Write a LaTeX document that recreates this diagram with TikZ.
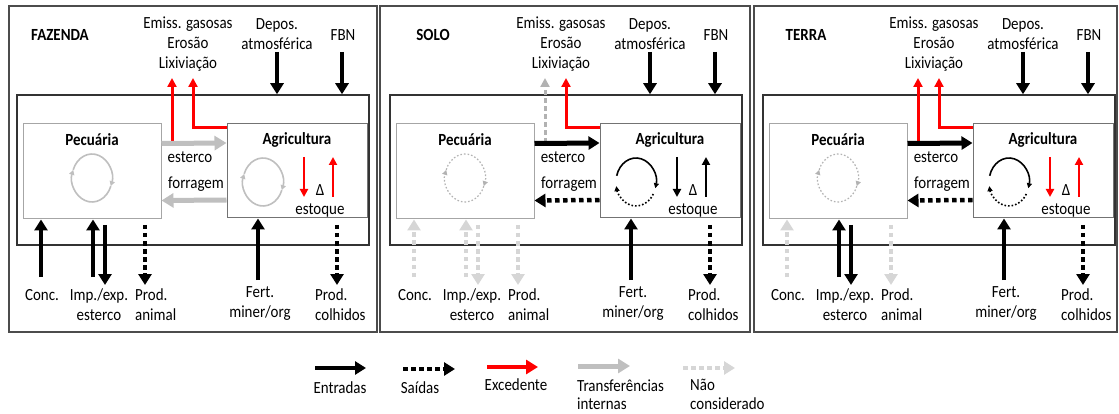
\documentclass[tikz,border=0pt]{standalone}
\usepackage{fontspec}
\setmainfont{Carlito}[FakeStretch=0.88]
\usepackage{xcolor}
\usetikzlibrary{arrows.meta}

\definecolor{excred}{HTML}{FF0000}
\definecolor{transgray}{HTML}{BFBFBF}
\definecolor{ncgray}{HTML}{D6D6D6}

\tikzset{
  lbl/.style={font=\fontsize{17}{20}\selectfont, inner sep=0pt, align=center},
  bold/.style={lbl, font=\fontsize{17}{20}\selectfont\bfseries},
  panelline/.style={draw=black!70, line width=1.3pt},
  entrada/.style={black, line width=4pt, -{Triangle[length=11pt,width=13pt]}},
  saida/.style={black, line width=4.5pt, dash pattern=on 4.5pt off 3.5pt, -{Triangle[length=11pt,width=13pt]}},
  exced/.style={excred, line width=3pt, -{Triangle[length=9pt,width=9pt]}},
  transf/.style={transgray, line width=5pt, -{Triangle[length=12pt,width=14pt]}},
  naocons/.style={ncgray, line width=4.5pt, dash pattern=on 4.5pt off 3.5pt, -{Triangle[length=11pt,width=13pt]}},
  stock/.style={line width=2.4pt, -{Triangle[length=8pt,width=8pt]}},
  cyc/.style={line width=1.6pt, -{Triangle[length=5pt,width=5pt]}},
}

% common parts of one panel: #1 prefix, #2 shift, #3 title
\newcommand{\farmpanel}[3]{%
\begin{scope}[xshift=#2pt]
  \node[bold] (#1title) at (60,35) {#3};
  \node[lbl] (#1emiss) at (188,44) {Emiss. gasosas\\Erosão\\Lixiviação};
  \node[lbl] (#1depos) at (277,34) {Depos.\\atmosférica};
  \node[lbl] (#1fbn) at (343,35) {FBN};
  \node[draw=black!80, line width=1.5pt, minimum width=352pt, minimum height=150pt, inner sep=0pt] (#1farm) at (193,170) {};
  \node[draw=black!35, line width=1pt, fill=white, minimum width=138pt, minimum height=95pt, inner sep=0pt] (#1pec) at (92,171.5) {};
  \node[draw=black!55, line width=1pt, fill=white, minimum width=140pt, minimum height=94pt, inner sep=0pt] (#1agr) at (297,171) {};
  \node[bold] (#1pect) at (92,140) {Pecuária};
  \node[bold] (#1agrt) at (297,140) {Agricultura};
  \node[lbl] (#1esterco) at (190,157) {esterco};
  \node[lbl] (#1forr) at (196,184) {forragem};
  \node[lbl] (#1delta) at (320,190) {Δ};
  \node[lbl] (#1estq) at (320,210) {estoque};
  \node[lbl] (#1conc) at (42,295) {Conc.};
  \node[lbl] (#1impl) at (99,305) {Imp./exp.\\esterco};
  \node[lbl, align=left, anchor=west] (#1prodan) at (135,305) {Prod.\\animal};
  \node[lbl] (#1fertl) at (260,304) {Fert.\\miner/org};
  \node[lbl, align=left, anchor=west] (#1prodco) at (315,305) {Prod.\\colhidos};
  \coordinate (#1dep) at (277,52);
  \coordinate (#1fbnt) at (342,52);
  \coordinate (#1ex1) at (172,78);
  \coordinate (#1ex2) at (193,78);
  \coordinate (#1ra) at (172,143);
  \coordinate (#1sd) at (304,157);
  \coordinate (#1su) at (333,197);
  \coordinate (#1cc) at (41,277);
  \coordinate (#1imp) at (93,277);
  \coordinate (#1exp) at (105,225);
  \coordinate (#1anim) at (145,225);
  \coordinate (#1fert) at (258,280);
  \coordinate (#1colh) at (337,225);
  \coordinate (#1low) at (0,285);
  \coordinate (#1pc) at (92,178);
  \coordinate (#1ac) at (263,182);
\end{scope}}

\begin{document}
\begin{tikzpicture}[x=1pt, y=-1pt]
\useasboundingbox (0,0) rectangle (1119,414);

\draw[panelline] (9,6) rectangle (377,332);
\draw[panelline] (380,6) rectangle (750,332);
\draw[panelline] (754,6) rectangle (1117,332);

% FAZENDA
\farmpanel{a}{0}{FAZENDA}
\draw[entrada] (adep) -- (adep |- afarm.north);
\draw[entrada] (afbnt) -- (afbnt |- afarm.north);
\draw[exced] (ara) -- (aex1);
\draw[exced] ([yshift=43pt]aagr.west) -| (aex2);
\draw[transf] ([yshift=28pt]apec.east) -- ([yshift=28pt]aagr.west);
\draw[transf] ([yshift=-29pt]aagr.west) -- ([yshift=-29pt]apec.east);
\draw[cyc, black!25] (apc) ++(200:20 and 24) arc[start angle=200, end angle=380, x radius=20, y radius=24];
\draw[cyc, black!25] (apc) ++(20:20 and 24) arc[start angle=20, end angle=200, x radius=20, y radius=24];
\draw[cyc, black!25] (aac) ++(200:20 and 24) arc[start angle=200, end angle=380, x radius=20, y radius=24];
\draw[cyc, black!25] (aac) ++(20:20 and 24) arc[start angle=20, end angle=200, x radius=20, y radius=24];
\draw[stock, excred] (asd) -- (asd |- asu);
\draw[stock, excred] (asu) -- (asu |- asd);
\draw[entrada] (acc) -- (acc |- apec.south);
\draw[entrada] (aimp) -- (aimp |- apec.south);
\draw[entrada] (aexp) -- (aexp |- alow);
\draw[saida] (aanim) -- (aanim |- alow);
\draw[entrada] (afert) -- (afert |- aagr.south);
\draw[saida] (acolh) -- (acolh |- alow);

% SOLO
\farmpanel{b}{373}{SOLO}
\draw[entrada] (bdep) -- (bdep |- bfarm.north);
\draw[entrada] (bfbnt) -- (bfbnt |- bfarm.north);
\draw[naocons, black!30, line width=3pt, -{Triangle[length=9pt,width=9pt]}] (bra) -- (bex1);
\draw[exced] ([yshift=43pt]bagr.west) -| (bex2);
\draw[entrada, line width=5pt] ([yshift=28pt]bpec.east) -- ([yshift=28pt]bagr.west);
\draw[saida] ([yshift=-29pt]bagr.west) -- ([yshift=-29pt]bpec.east);
\draw[cyc, black!30, dotted, line width=1.2pt] (bpc) ++(200:20 and 24) arc[start angle=200, end angle=380, x radius=20, y radius=24];
\draw[cyc, black!30, dotted, line width=1.2pt] (bpc) ++(20:20 and 24) arc[start angle=20, end angle=200, x radius=20, y radius=24];
\draw[cyc, black] (bac) ++(195:20 and 24) arc[start angle=195, end angle=375, x radius=20, y radius=24];
\draw[cyc, black, dotted] (bac) ++(30:20 and 24) arc[start angle=30, end angle=170, x radius=20, y radius=24];
\draw[stock, black] (bsd) -- (bsd |- bsu);
\draw[stock, black] (bsu) -- (bsu |- bsd);
\draw[naocons] (bcc) -- (bcc |- bpec.south);
\draw[naocons] (bimp) -- (bimp |- bpec.south);
\draw[naocons] (bexp) -- (bexp |- blow);
\draw[naocons] (banim) -- (banim |- blow);
\draw[entrada] (bfert) -- (bfert |- bagr.south);
\draw[saida] (bcolh) -- (bcolh |- blow);

% TERRA
\farmpanel{c}{746}{TERRA}
\draw[entrada] (cdep) -- (cdep |- cfarm.north);
\draw[entrada] (cfbnt) -- (cfbnt |- cfarm.north);
\draw[exced] (cra) -- (cex1);
\draw[exced] ([yshift=43pt]cagr.west) -| (cex2);
\draw[entrada, line width=5pt] ([yshift=28pt]cpec.east) -- ([yshift=28pt]cagr.west);
\draw[saida] ([yshift=-29pt]cagr.west) -- ([yshift=-29pt]cpec.east);
\draw[cyc, black!30, dotted, line width=1.2pt] (cpc) ++(200:20 and 24) arc[start angle=200, end angle=380, x radius=20, y radius=24];
\draw[cyc, black!30, dotted, line width=1.2pt] (cpc) ++(20:20 and 24) arc[start angle=20, end angle=200, x radius=20, y radius=24];
\draw[cyc, black] (cac) ++(195:20 and 24) arc[start angle=195, end angle=375, x radius=20, y radius=24];
\draw[cyc, black, dotted] (cac) ++(30:20 and 24) arc[start angle=30, end angle=170, x radius=20, y radius=24];
\draw[stock, excred] (csd) -- (csd |- csu);
\draw[stock, excred] (csu) -- (csu |- csd);
\draw[naocons] (ccc) -- (ccc |- cpec.south);
\draw[entrada] (cimp) -- (cimp |- cpec.south);
\draw[entrada] (cexp) -- (cexp |- clow);
\draw[naocons] (canim) -- (canim |- clow);
\draw[entrada] (cfert) -- (cfert |- cagr.south);
\draw[saida] (ccolh) -- (ccolh |- clow);

% legenda
\coordinate (l1) at (315,368);
\coordinate (l1e) at (366,368);
\coordinate (l2) at (403,369);
\coordinate (l2e) at (455,369);
\coordinate (l3) at (487,367);
\coordinate (l3e) at (538,367);
\coordinate (l4) at (578,366);
\coordinate (l4e) at (630,366);
\coordinate (l5) at (683,368);
\coordinate (l5e) at (735,368);
\draw[entrada, line width=4.5pt] (l1) -- (l1e);
\draw[saida] (l2) -- (l2e);
\draw[exced, line width=4.5pt, -{Triangle[length=12pt,width=14pt]}] (l3) -- (l3e);
\draw[transf] (l4) -- (l4e);
\draw[naocons] (l5) -- (l5e);
\node[lbl] (legent) at (340,388) {Entradas};
\node[lbl] (legsai) at (420,388) {Saídas};
\node[lbl] (legexc) at (516,385) {Excedente};
\node[lbl, align=left, anchor=west, font=\fontsize{17}{18}\selectfont] (legtra) at (577,395) {Transferências\\internas};
\node[lbl, align=left, anchor=west, font=\fontsize{17}{19}\selectfont] (legnao) at (690,394) {Não\\considerado};

\end{tikzpicture}
\end{document}
